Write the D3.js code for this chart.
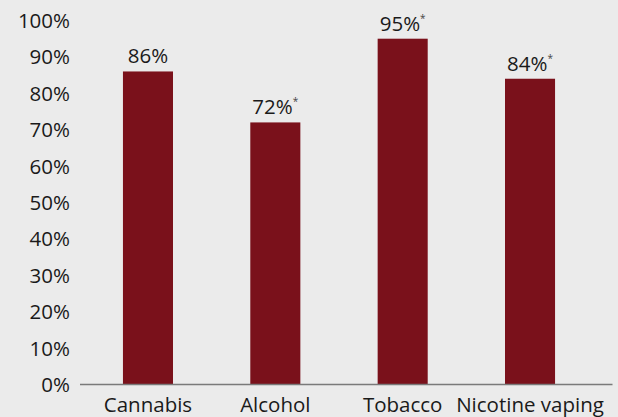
<!DOCTYPE html>
<html>
<head>
<meta charset="utf-8">
<script src="https://cdn.jsdelivr.net/npm/d3@7"></script>
<style>
  html, body { margin: 0; padding: 0; background: #ebebeb; }
  svg { display: block; }
  text { font-family: "Open Sans", "Noto Sans", sans-serif; fill: #1a1a1a; }
</style>
</head>
<body>
<svg id="chart" width="618" height="417"></svg>
<script>
const categories = ["Cannabis", "Alcohol", "Tobacco", "Nicotine vaping"];
const values = [86, 72, 95, 84];
const valueLabels = ["86%", "72%", "95%", "84%"];
const significant = [false, true, true, true];
const yTicks = [0, 10, 20, 30, 40, 50, 60, 70, 80, 90, 100];

const W = 618, H = 417;
const FS = 20.5;
const svg = d3.select("#chart");
svg.append("rect").attr("width", W).attr("height", H).attr("fill", "#ebebeb");

const y = d3.scaleLinear().domain([0, 100]).range([384.5, 20.5]);
const x = d3.scaleBand().domain(categories).range([84.3, 593.7])
  .paddingInner(0.607).paddingOuter(0.3035);

// bars
svg.append("g").selectAll("rect").data(categories).join("rect")
  .attr("x", d => x(d))
  .attr("width", x.bandwidth())
  .attr("y", (d, i) => y(values[i]))
  .attr("height", (d, i) => y(0) - y(values[i]))
  .attr("fill", "#7a111b");

// axis line
svg.append("line").attr("x1", 80).attr("x2", 612.5)
  .attr("y1", 384.5).attr("y2", 384.5)
  .attr("stroke", "#7a7a7a").attr("stroke-width", 1.5);

// y tick labels
svg.append("g").selectAll("text").data(yTicks).join("text")
  .attr("x", 70).attr("y", d => y(d) + 7.5)
  .attr("text-anchor", "end")
  .attr("font-size", FS)
  .text(d => d + "%");

// x labels
svg.append("g").selectAll("text").data(categories).join("text")
  .attr("x", d => x(d) + x.bandwidth() / 2)
  .attr("y", 411.5)
  .attr("text-anchor", "middle")
  .attr("font-size", FS)
  .text(d => d);

// value labels
const vl = svg.append("g").selectAll("text").data(categories).join("text")
  .attr("x", d => x(d) + x.bandwidth() / 2)
  .attr("y", (d, i) => y(values[i]) - 8)
  .attr("text-anchor", "middle")
  .attr("font-size", FS);
vl.append("tspan").text((d, i) => valueLabels[i]);
vl.append("tspan").attr("font-size", 10).attr("dy", -9).attr("fill", "#444")
  .text((d, i) => significant[i] ? "*" : "");
</script>
</body>
</html>
